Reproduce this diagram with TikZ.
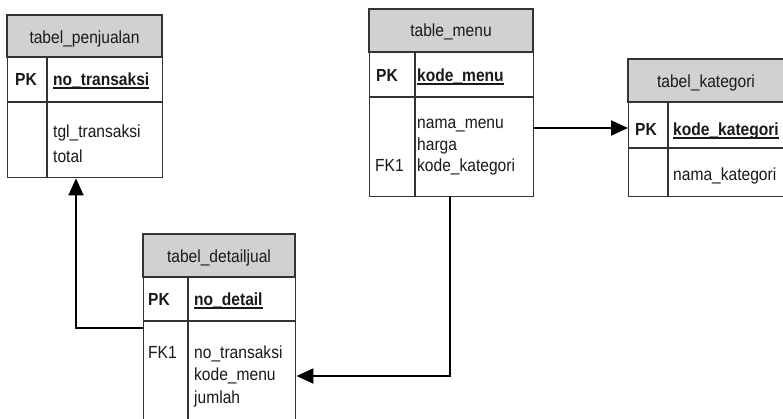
\documentclass[tikz,border=0pt]{standalone}
\usepackage{fontspec}
\setmainfont[FakeStretch=0.89]{Liberation Sans}
\usetikzlibrary{arrows.meta}

\tikzset{
  tbl/.style={draw=black!80, line width=1.4pt, fill=white, inner sep=0pt, anchor=north west},
  hdr/.style={fill=black!18, draw=black!80, line width=1.4pt},
  sep/.style={draw=black!80, line width=1.4pt},
  txt/.style={inner sep=0pt, text=black!90, font=\fontsize{17.5}{22}\selectfont, anchor=base west},
  ttl/.style={txt, anchor=base},
  key/.style={txt, font=\fontsize{17.5}{22}\selectfont\bfseries},
  uline/.style={draw=black!90, line width=1.3pt},
  conn/.style={draw=black, line width=2pt, -{Triangle[length=17pt,width=15pt]}}
}

\begin{document}
\begin{tikzpicture}[x=1pt,y=-1pt]
\useasboundingbox (0,0) rectangle (783,418);

% ---- tabel_penjualan ----
\node[tbl, minimum width=155pt, minimum height=162pt] (pen) at (7,15) {};
\path[hdr] (7,15) rectangle (162,57);
\path[sep] (7,102) -- (162,102) (47,57) -- (47,177);
\node[ttl] (penT) at (84.5,43) {tabel\_penjualan};
\node[key] (penPK) at (15,85) {PK};
\node[key] (penK) at (53,85) {no\_transaksi};
\path[uline] ([yshift=-3pt]penK.base west) -- ([yshift=-3pt]penK.base east);
\node[txt] (penF1) at (53,137) {tgl\_transaksi};
\node[txt] (penF2) at (53,162) {total};

% ---- table_menu ----
\node[tbl, minimum width=164pt, minimum height=187pt] (menu) at (369,9) {};
\path[hdr] (369,9) rectangle (533,52);
\path[sep] (369,97) -- (533,97) (415,52) -- (415,196);
\node[ttl] (menuT) at (451,36) {table\_menu};
\node[key] (menuPK) at (376,81) {PK};
\node[key] (menuK) at (417,81) {kode\_menu};
\path[uline] ([yshift=-3pt]menuK.base west) -- ([yshift=-3pt]menuK.base east);
\node[txt] (menuF1) at (417,128) {nama\_menu};
\node[txt] (menuF2) at (417,150) {harga};
\node[txt] (menuF3) at (417,171) {kode\_kategori};
\node[txt] (menuFK) at (375,171) {FK1};

% ---- tabel_kategori ----
\node[tbl, minimum width=162pt, minimum height=137pt] (kat) at (628,59) {};
\path[hdr] (628,59) rectangle (790,102);
\path[sep] (628,148) -- (790,148) (668,102) -- (668,196);
\node[ttl] (katT) at (706,87) {tabel\_kategori};
\node[key] (katPK) at (635,135) {PK};
\node[key] (katK) at (673,135) {kode\_kategori};
\path[uline] ([yshift=-3pt]katK.base west) -- ([yshift=-3pt]katK.base east);
\node[txt] (katF1) at (673,180) {nama\_kategori};

% ---- tabel_detailjual ----
\node[tbl, minimum width=152pt, minimum height=190pt] (det) at (143,234) {};
\path[hdr] (143,234) rectangle (295,277);
\path[sep] (143,321) -- (295,321) (188,277) -- (188,424);
\node[ttl] (detT) at (219,262) {tabel\_detailjual};
\node[key] (detPK) at (148,305) {PK};
\node[key] (detK) at (194,305) {no\_detail};
\path[uline] ([yshift=-3pt]detK.base west) -- ([yshift=-3pt]detK.base east);
\node[txt] (detF1) at (194,358) {no\_transaksi};
\node[txt] (detF2) at (194,380) {kode\_menu};
\node[txt] (detF3) at (194,403) {jumlah};
\node[txt] (detFK) at (148,358) {FK1};

% ---- relationships ----
\draw[conn] (det.west |- 0,328) -| (pen.south -| 76,0);
\draw[conn] (menu.south -| 450,0) |- (det.east |- 0,376);
\draw[conn] (menu.east |- 0,128) -- (kat.west |- 0,128);
\end{tikzpicture}
\end{document}
